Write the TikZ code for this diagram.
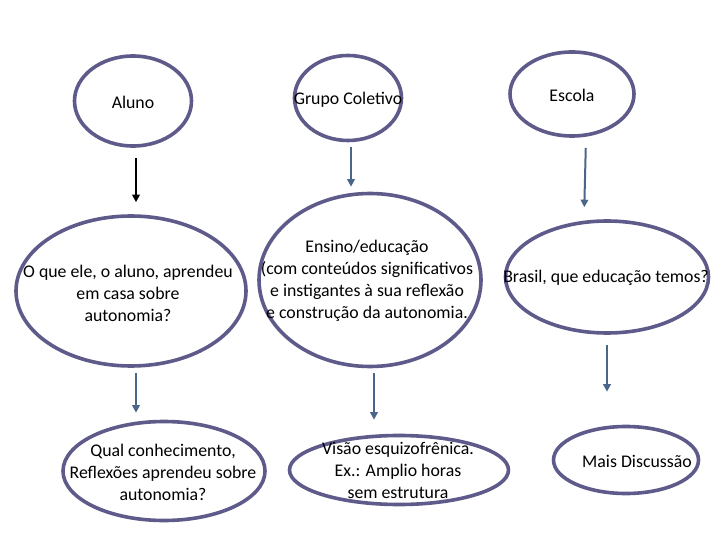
\documentclass[tikz,border=0pt]{standalone}
\usepackage{fontspec}
\setmainfont{Carlito}
\usepackage{xcolor}
\usetikzlibrary{arrows.meta, shapes.geometric}

\definecolor{ringcol}{HTML}{5E5B8A}
\definecolor{arrcol}{HTML}{4A6789}

\begin{document}
\begin{tikzpicture}[
    x=1pt, y=-1pt,
    every node/.style={font=\fontsize{17.8}{22}\selectfont},
    ring/.style={ellipse, draw=ringcol, line width=3.6pt, inner sep=0pt},
    txt/.style={align=center, inner sep=0pt},
    arr/.style={draw=arrcol, line width=2pt, -{Triangle[width=7.5pt,length=7.5pt]}},
]
  \useasboundingbox (0,0) rectangle (720,540);

  % top row
  \node[ring, minimum width=117, minimum height=90] (aluno) at (133,101) {};
  \node[ring, minimum width=107, minimum height=85] (grupo) at (348,98) {};
  \node[ring, minimum width=124, minimum height=84] (escola) at (572,94) {};
  \node[txt] (alunotxt) at (133,102) {Aluno};
  \node[txt] (grupotxt) at (348,100) {Grupo Coletivo};
  \node[txt] (escolatxt) at (572,95) {Escola};

  % middle row
  \node[ring, minimum width=230, minimum height=150] (oque) at (131,291) {};
  \node[ring, minimum width=222, minimum height=173] (ensino) at (370,280) {};
  \node[ring, minimum width=203, minimum height=112] (brasil) at (607,277) {};
  \node[txt] (oquetxt) at (128,293) {O que ele, o aluno, aprendeu\\em casa sobre\\autonomia?};
  \node[txt] (ensinotxt) at (367,281) {Ensino/educação\\(com conteúdos significativos\\e instigantes à sua reflexão\\e construção da autonomia.};
  \node[txt] (brasiltxt) at (606,278) {Brasil, que educação temos?};

  % bottom row
  \node[ring, minimum width=202, minimum height=99] (qual) at (164,471) {};
  \node[ring, minimum width=219, minimum height=69] (visao) at (399,470) {};
  \node[ring, minimum width=145, minimum height=67] (mais) at (626,460) {};
  \node[txt] (qualtxt) at (163,472) {Qual conhecimento,\\Reflexões aprendeu sobre\\autonomia?};
  \node[txt] (visaotxt) at (398,470) {Visão esquizofrênica.\\Ex.: Amplio horas\\sem estrutura};
  \node[txt] (maistxt) at (637,461) {Mais Discussão};

  \draw[arr, draw=black, shorten <=10, shorten >=12] ([xshift=3]aluno.south) -- ([xshift=5]oque.north);
  \draw[arr, shorten <=5, shorten >=5] ([xshift=3]grupo.south) -- ([xshift=-19]ensino.north);
  \draw[arr, shorten <=10, shorten >=12] ([xshift=14]escola.south) -- ([xshift=-23]brasil.north);
  \draw[arr, shorten <=5, shorten >=7] ([xshift=5]oque.south) -- ([xshift=-28]qual.north);
  \draw[arr, shorten <=5, shorten >=14] ([xshift=4]ensino.south) -- ([xshift=-25]visao.north);
  \draw[arr, shorten <=10, shorten >=33] (brasil.south) -- ([xshift=-19]mais.north);
\end{tikzpicture}
\end{document}
